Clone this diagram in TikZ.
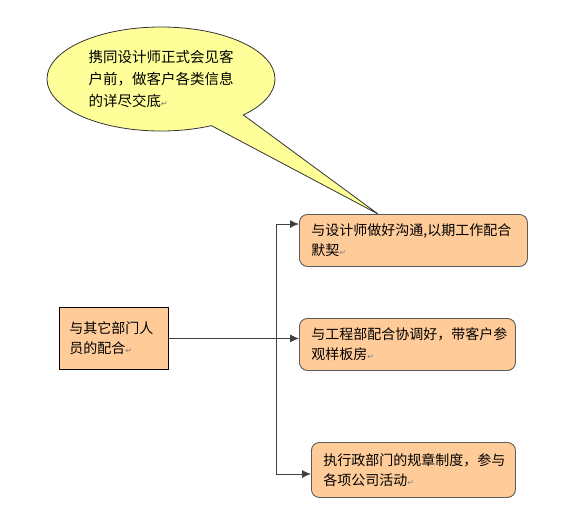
\documentclass[tikz,border=0pt]{standalone}
\usepackage{fontspec}
\setmainfont{Noto Sans CJK SC}
\newfontfamily\dejavu{DejaVu Sans}
\usepackage{xcolor}
\usepackage{tikz}
\usetikzlibrary{shapes,shapes.callouts,arrows.meta,positioning}
\definecolor{memoOrange}{RGB}{255,204,153}
\definecolor{memoYellow}{RGB}{255,255,153}
\definecolor{memoEdge}{RGB}{90,90,90}
\newcommand\retmark{{\dejavu\fontsize{8}{8}\selectfont\color{gray}↵}}

\begin{document}
\begin{tikzpicture}[x=1pt, y=-1pt, font=\fontsize{14}{20}\selectfont,
  task/.style={draw=memoEdge, rounded corners=8pt, fill=memoOrange, line width=0.9pt,
    anchor=north west, align=left, inner xsep=12pt, inner ysep=0pt},
  link/.style={draw=black!75, line width=0.9pt, -{Latex[length=9pt,width=8pt]}}]
  \useasboundingbox (0,0) rectangle (569,523);

  \node[draw=black, fill=memoOrange, line width=0.9pt, anchor=north west, align=left,
    inner xsep=10pt, inner ysep=0pt, minimum width=109pt, minimum height=62pt,
    text width=89pt] (dept) at (59,307) {与其它部门人\\员的配合\retmark};

  \node[task, minimum width=228pt, minimum height=52pt, text width=204pt] (design) at (299,214)
    {与设计师做好沟通,以期工作配合\\默契\retmark};
  \node[task, minimum width=216pt, minimum height=52pt, text width=192pt] (site) at (299,318)
    {与工程部配合协调好，带客户参\\观样板房\retmark};
  \node[task, minimum width=204pt, minimum height=55pt, text width=180pt] (admin) at (311,442)
    {执行政部门的规章制度，参与\\各项公司活动\retmark};

  \coordinate (tip) at (378,214);
  \node[ellipse callout, draw=black!80, fill=memoYellow, line width=0.8pt, inner sep=0pt,
    minimum width=228pt, minimum height=104pt, callout pointer arc=20,
    callout absolute pointer={(tip)}, align=left, font=\fontsize{14.5}{22}\selectfont]
    (visit) at (161,79) {携同设计师正式会见客\\户前，做客户各类信息\\的详尽交底\retmark};

  % bus on the left of the three tasks
  \coordinate (bustop) at (276,224);
  \coordinate (busbot) at (276,474);
  \draw[draw=black!75, line width=0.9pt] (bustop) -- (busbot);
  \draw[link] (bustop) -- (bustop -| design.west);
  \draw[link] (dept.east) -- (dept.east -| site.west);
  \draw[link] (busbot) -- (busbot -| admin.west);
\end{tikzpicture}
\end{document}
